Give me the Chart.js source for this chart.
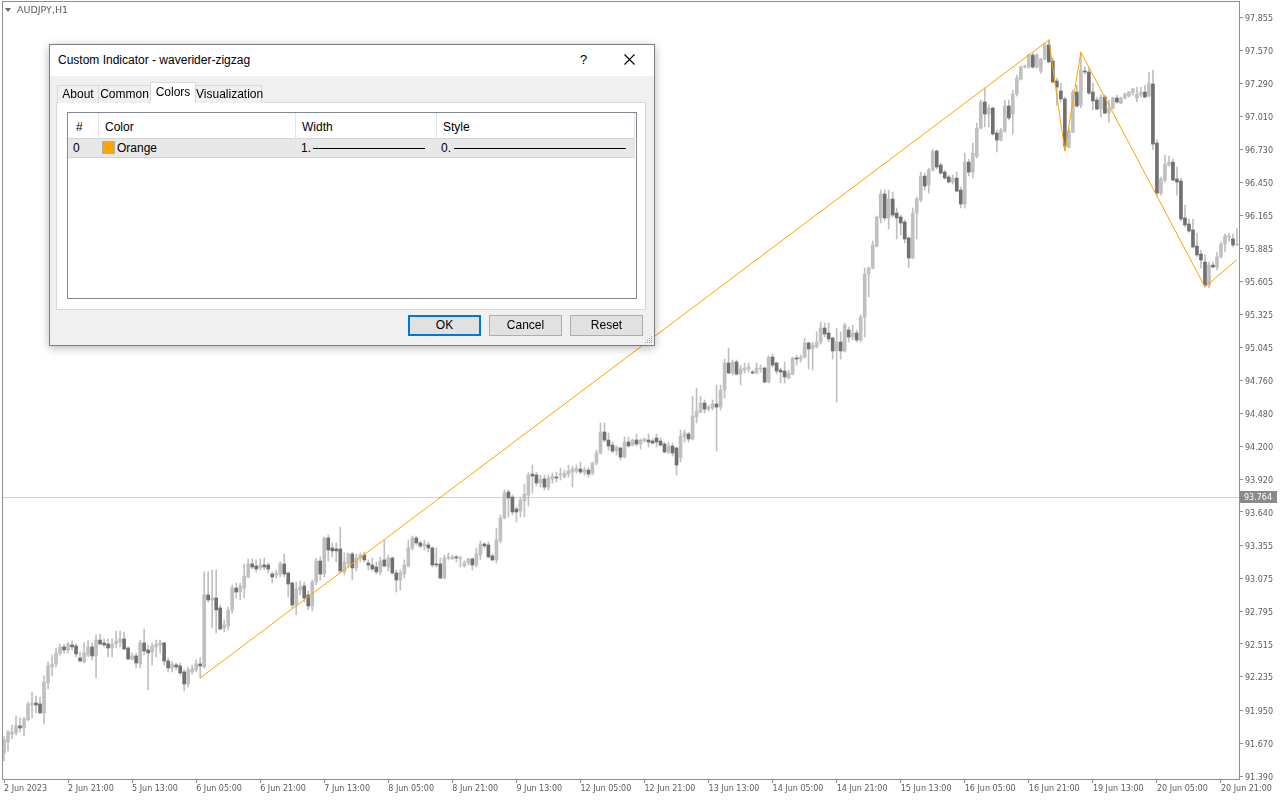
<!DOCTYPE html>
<html><head><meta charset="utf-8">
<script src="https://cdn.jsdelivr.net/npm/chart.js@4.4.0/dist/chart.umd.min.js"></script>
<style>
html,body{margin:0;padding:0;background:#fff;width:1280px;height:800px;overflow:hidden}
#wrap{position:relative;width:1280px;height:800px}
#c{position:absolute;left:0;top:0}
.a{position:absolute;white-space:nowrap}
.dl{font-family:'Liberation Sans',Arial,sans-serif;font-size:12px;color:#000}
.sym{left:17px;top:4px;font:9.5px 'DejaVu Sans',sans-serif;color:#5c5c5c}
.tri{left:5px;top:8px;width:0;height:0;border-left:3px solid transparent;border-right:3px solid transparent;border-top:4px solid #6a6a6a}
.tab{background:#f0f0f0;border:1px solid #d9d9d9;border-bottom:none;box-sizing:border-box;text-align:center;line-height:17px;height:18px;top:85px}
.btn{box-sizing:border-box;height:21px;top:315px;width:73px;background:#e1e1e1;border:1px solid #adadad;text-align:center;line-height:19px}
.vs{width:1px;background:#e5e5e5;top:113px;height:44px}
</style>
</head><body><div id="wrap">
<canvas id="c" width="1280" height="800"></canvas>
<div class="a tri"></div>
<div class="a sym">AUDJPY,H1</div>

<div class="a dl" style="left:49px;top:44px;width:606px;height:302px;box-sizing:border-box;background:#f0f0f0;border:1px solid #7d7d7d;box-shadow:0 2px 9px rgba(0,0,0,0.28)"></div>
<div class="a" style="left:50px;top:45px;width:604px;height:31px;background:#fff"></div>
<div class="a dl" style="left:58px;top:45px;line-height:31px">Custom Indicator - waverider-zigzag</div>
<div class="a dl" style="left:580px;top:45px;line-height:30px;font-size:13px">?</div>
<svg class="a" style="left:624px;top:54px" width="11" height="11"><path d="M0.5 0.5 L10.5 10.5 M10.5 0.5 L0.5 10.5" stroke="#000" stroke-width="1.1" fill="none"/></svg>

<div class="a" style="left:56px;top:102px;width:590px;height:208px;box-sizing:border-box;background:#fff;border:1px solid #d9d9d9"></div>
<div class="a dl tab" style="left:57px;width:42px">About</div>
<div class="a dl tab" style="left:98px;width:53px">Common</div>
<div class="a dl tab" style="left:195px;width:67px">Visualization</div>
<div class="a dl" style="left:150px;top:82px;width:46px;height:21px;box-sizing:border-box;background:#fff;border:1px solid #d9d9d9;border-bottom:none;text-align:center;line-height:18px">Colors</div>

<div class="a" style="left:67px;top:112px;width:570px;height:187px;box-sizing:border-box;background:#fff;border:1px solid #828790"></div>
<div class="a" style="left:68px;top:138px;width:567px;height:20px;box-sizing:border-box;background:#e8e8e8;border-top:1px solid #d5d5d5;border-bottom:1px solid #d5d5d5"></div>
<div class="a vs" style="left:98px"></div>
<div class="a vs" style="left:295px"></div>
<div class="a vs" style="left:436px"></div>
<div class="a vs" style="left:634px"></div>
<div class="a dl" style="left:76px;top:120px">#</div>
<div class="a dl" style="left:105px;top:120px">Color</div>
<div class="a dl" style="left:302px;top:120px">Width</div>
<div class="a dl" style="left:443px;top:120px">Style</div>
<div class="a dl" style="left:73px;top:141px">0</div>
<div class="a" style="left:102px;top:141px;width:13px;height:13px;box-sizing:border-box;background:#ffa500;border:1px solid #b0b0b0"></div>
<div class="a dl" style="left:117px;top:141px">Orange</div>
<div class="a dl" style="left:301px;top:141px">1.</div>
<div class="a" style="left:313px;top:148px;width:112px;height:1px;background:#000"></div>
<div class="a dl" style="left:441px;top:141px">0.</div>
<div class="a" style="left:454px;top:148px;width:172px;height:1px;background:#000"></div>

<div class="a dl btn" style="left:408px;border:2px solid #0078d7;line-height:17px">OK</div>
<div class="a dl btn" style="left:489px">Cancel</div>
<div class="a dl btn" style="left:570px">Reset</div>
<svg class="a" style="left:644px;top:335px" width="9" height="9"><g fill="#a0a0a0"><rect x="7" y="1" width="1" height="1"/><rect x="5" y="3" width="1" height="1"/><rect x="7" y="3" width="1" height="1"/><rect x="3" y="5" width="1" height="1"/><rect x="5" y="5" width="1" height="1"/><rect x="7" y="5" width="1" height="1"/><rect x="1" y="7" width="1" height="1"/><rect x="3" y="7" width="1" height="1"/><rect x="5" y="7" width="1" height="1"/><rect x="7" y="7" width="1" height="1"/></g></svg>
</div>
<script>
// ---------- DATA ----------
const sessions = [['2 Jun',5,23],['5 Jun',0,23],['6 Jun',0,23],['7 Jun',0,23],['8 Jun',0,23],['9 Jun',0,23],
  ['12 Jun',0,23],['13 Jun',0,23],['14 Jun',0,23],['15 Jun',0,23],['16 Jun',0,23],['19 Jun',0,23],['20 Jun',0,23],['21 Jun',0,1]];
const categories = [];
sessions.forEach(([d,h0,h1]) => { for (let h=h0; h<=h1; h++) categories.push(d+' '+String(h).padStart(2,'0')+':00'); });
const firstLabel = '2 Jun 2023';

const open = [
91.586,91.680,91.748,91.757,91.817,91.799,91.868,91.995,92.012,92.004,
91.927,92.183,92.319,92.345,92.438,92.490,92.464,92.507,92.498,92.396,
92.362,92.421,92.490,92.413,92.549,92.524,92.515,92.481,92.515,92.532,
92.558,92.481,92.387,92.413,92.345,92.524,92.464,92.447,92.490,92.507,
92.524,92.370,92.311,92.336,92.328,92.277,92.174,92.277,92.294,92.345,
92.319,92.933,92.890,92.907,92.822,92.651,92.668,92.805,92.992,92.958,
92.992,93.086,93.197,93.180,93.163,93.188,93.188,93.111,93.103,93.111,
93.197,93.120,93.035,92.847,92.975,93.009,92.933,92.839,93.043,93.222,
93.111,93.418,93.333,93.325,93.325,93.129,93.197,93.282,93.163,93.248,
93.273,93.205,93.188,93.171,93.129,93.231,93.171,93.248,93.120,93.060,
93.111,93.180,93.333,93.418,93.376,93.350,93.359,93.333,93.197,93.197,
93.077,93.248,93.240,93.257,93.240,93.180,93.205,93.240,93.188,93.273,
93.367,93.359,93.265,93.231,93.393,93.589,93.810,93.767,93.665,93.648,
93.733,93.784,93.963,93.955,93.887,93.921,93.852,93.921,93.938,93.955,
93.938,93.963,93.980,93.989,94.006,93.980,93.997,93.972,94.057,94.142,
94.321,94.253,94.210,94.159,94.185,94.108,94.236,94.210,94.253,94.219,
94.245,94.253,94.245,94.270,94.245,94.219,94.151,94.202,94.185,94.100,
94.279,94.304,94.262,94.449,94.492,94.568,94.517,94.526,94.560,94.534,
94.679,94.909,94.824,94.918,94.815,94.849,94.858,94.832,94.824,94.858,
94.866,94.747,94.960,94.909,94.849,94.841,94.781,94.815,94.952,94.943,
94.960,95.080,95.029,95.046,95.088,95.207,95.165,95.122,95.012,95.088,
95.012,95.190,95.131,95.165,95.105,95.301,95.668,95.719,95.906,96.145,
96.349,96.145,96.306,96.187,96.153,96.111,95.975,95.804,96.187,96.298,
96.502,96.426,96.553,96.715,96.596,96.536,96.494,96.451,96.485,96.383,
96.264,96.621,96.536,96.672,96.911,97.133,97.031,97.082,96.869,96.809,
96.886,97.099,97.031,97.201,97.329,97.431,97.431,97.533,97.431,97.397,
97.499,97.619,97.482,97.312,97.227,97.159,96.749,96.877,97.218,97.107,
97.397,97.389,97.218,97.150,97.073,97.176,97.039,97.082,97.167,97.124,
97.167,97.184,97.210,97.167,97.193,97.218,97.184,97.287,96.783,96.357,
96.468,96.596,96.621,96.477,96.460,96.145,96.094,96.043,95.906,95.838,
95.770,95.574,95.744,95.727,95.813,95.923,95.983,95.966,95.915];

const high = [
91.723,91.774,91.825,91.902,91.885,91.893,92.021,92.106,92.072,92.063,
92.243,92.362,92.421,92.481,92.515,92.515,92.532,92.541,92.515,92.447,
92.524,92.541,92.524,92.592,92.600,92.558,92.558,92.558,92.626,92.626,
92.617,92.490,92.438,92.438,92.549,92.643,92.507,92.524,92.549,92.549,
92.530,92.396,92.362,92.353,92.353,92.294,92.319,92.336,92.379,92.396,
93.129,93.129,93.146,93.146,92.847,92.720,92.830,93.018,93.035,93.035,
93.197,93.240,93.240,93.231,93.240,93.248,93.205,93.129,93.146,93.214,
93.282,93.129,93.043,93.043,93.052,93.043,92.967,93.060,93.248,93.257,
93.427,93.444,93.376,93.376,93.512,93.290,93.290,93.299,93.282,93.290,
93.299,93.231,93.248,93.214,93.257,93.401,93.273,93.257,93.146,93.146,
93.231,93.401,93.435,93.435,93.393,93.401,93.384,93.342,93.333,93.248,
93.273,93.290,93.273,93.273,93.265,93.222,93.248,93.248,93.333,93.393,
93.376,93.384,93.282,93.503,93.614,93.827,93.827,93.784,93.682,93.759,
93.878,93.972,94.040,93.980,93.955,93.955,93.955,93.972,93.980,94.014,
93.997,94.040,94.031,94.040,94.065,94.023,94.014,94.065,94.168,94.398,
94.398,94.313,94.236,94.202,94.193,94.279,94.279,94.262,94.304,94.262,
94.270,94.304,94.262,94.304,94.270,94.236,94.236,94.227,94.193,94.338,
94.338,94.321,94.628,94.696,94.628,94.594,94.551,94.594,94.722,94.722,
94.943,95.037,94.935,94.935,94.892,94.909,94.909,94.849,94.909,94.892,
94.875,94.969,94.986,94.918,94.866,94.918,94.849,94.960,94.977,94.977,
95.122,95.088,95.088,95.173,95.258,95.250,95.250,95.131,95.207,95.173,
95.250,95.216,95.233,95.190,95.318,95.719,95.727,95.949,96.162,96.383,
96.383,96.383,96.366,96.230,96.170,96.128,95.983,96.230,96.323,96.536,
96.528,96.570,96.727,96.727,96.613,96.553,96.511,96.511,96.536,96.408,
96.698,96.647,96.783,96.954,97.150,97.252,97.107,97.090,96.894,96.911,
97.150,97.150,97.235,97.363,97.440,97.448,97.540,97.550,97.545,97.505,
97.636,97.662,97.508,97.337,97.295,97.176,96.911,97.235,97.278,97.559,
97.430,97.423,97.295,97.176,97.193,97.193,97.150,97.176,97.193,97.176,
97.210,97.225,97.252,97.261,97.261,97.278,97.389,97.406,96.809,96.494,
96.681,96.672,96.647,96.579,96.485,96.255,96.136,96.136,96.017,95.872,
95.830,95.770,95.770,95.855,95.940,96.008,96.017,96.008,96.060];

const low = [
91.518,91.604,91.706,91.740,91.765,91.731,91.859,91.885,91.927,91.927,
91.834,92.132,92.243,92.319,92.421,92.438,92.438,92.464,92.404,92.362,
92.353,92.404,92.379,92.225,92.507,92.490,92.404,92.404,92.481,92.490,
92.464,92.379,92.379,92.311,92.311,92.421,92.123,92.336,92.404,92.438,
92.336,92.277,92.277,92.294,92.251,92.115,92.149,92.260,92.277,92.225,
92.311,92.873,92.651,92.609,92.634,92.617,92.634,92.779,92.907,92.890,
92.907,93.077,93.154,93.129,93.146,93.146,93.120,93.035,93.077,93.086,
93.086,92.916,92.822,92.762,92.933,92.873,92.805,92.796,93.018,93.060,
93.086,93.222,93.257,93.214,93.120,93.103,93.163,93.060,93.137,93.214,
93.214,93.146,93.137,93.111,93.103,93.171,93.137,93.111,92.958,92.975,
93.077,93.171,93.316,93.359,93.333,93.316,93.299,93.171,93.171,93.070,
93.069,93.231,93.235,93.214,93.171,93.171,93.188,93.146,93.171,93.231,
93.333,93.248,93.222,93.205,93.376,93.580,93.597,93.614,93.554,93.597,
93.597,93.691,93.801,93.861,93.852,93.827,93.827,93.887,93.895,93.912,
93.929,93.938,93.852,93.972,93.963,93.955,93.938,93.955,94.040,94.134,
94.236,94.168,94.142,94.125,94.083,94.100,94.193,94.202,94.202,94.176,
94.236,94.193,94.219,94.193,94.202,94.142,94.134,94.117,93.955,94.066,
94.236,94.236,94.253,94.398,94.483,94.483,94.500,94.509,94.159,94.509,
94.611,94.815,94.807,94.807,94.722,94.824,94.832,94.815,94.815,94.832,
94.739,94.739,94.875,94.815,94.739,94.739,94.773,94.807,94.892,94.918,
94.952,94.858,94.849,95.037,95.071,95.131,95.088,94.943,94.577,94.943,
95.003,95.088,95.105,95.088,95.088,95.131,95.472,95.710,95.898,96.102,
96.128,96.051,96.153,95.966,96.000,95.932,95.719,95.796,95.966,96.281,
96.383,96.357,96.545,96.562,96.519,96.476,96.443,96.434,96.366,96.230,
96.230,96.502,96.485,96.655,96.903,96.920,96.920,96.852,96.707,96.800,
96.877,96.980,96.860,97.184,97.320,97.422,97.422,97.422,97.422,97.380,
97.491,97.466,97.295,97.107,97.133,96.716,96.741,96.869,97.090,97.082,
97.370,97.195,97.065,97.065,97.005,97.031,96.962,97.073,97.124,97.116,
97.159,97.176,97.193,97.133,97.176,97.167,97.176,96.727,96.340,96.340,
96.451,96.587,96.460,96.340,96.119,96.068,96.025,95.889,95.813,95.719,
95.557,95.549,95.719,95.702,95.804,95.855,95.940,95.898,95.906];

const close = [
91.697,91.765,91.765,91.817,91.799,91.876,92.004,92.012,91.995,91.927,
92.191,92.328,92.345,92.438,92.490,92.464,92.515,92.490,92.430,92.370,
92.438,92.490,92.413,92.549,92.515,92.507,92.481,92.515,92.541,92.558,
92.473,92.387,92.413,92.353,92.524,92.455,92.438,92.498,92.515,92.524,
92.370,92.311,92.345,92.319,92.268,92.174,92.294,92.302,92.345,92.328,
92.933,92.890,92.907,92.805,92.643,92.677,92.805,92.992,92.958,93.009,
93.094,93.197,93.171,93.154,93.188,93.171,93.154,93.086,93.120,93.197,
93.111,93.026,92.847,92.984,93.001,92.907,92.839,93.043,93.222,93.111,
93.418,93.316,93.308,93.308,93.137,93.214,93.282,93.163,93.248,93.273,
93.231,93.188,93.154,93.129,93.222,93.180,93.248,93.120,93.060,93.120,
93.188,93.333,93.418,93.376,93.350,93.367,93.333,93.188,93.188,93.077,
93.248,93.257,93.257,93.248,93.248,93.205,93.240,93.188,93.282,93.367,
93.350,93.257,93.231,93.401,93.589,93.801,93.759,93.640,93.640,93.742,
93.793,93.955,93.946,93.887,93.921,93.852,93.929,93.946,93.929,93.963,
93.972,93.989,94.006,94.014,93.980,93.997,93.963,94.057,94.142,94.321,
94.253,94.202,94.159,94.193,94.108,94.236,94.202,94.253,94.219,94.253,
94.262,94.236,94.227,94.236,94.210,94.151,94.202,94.142,94.040,94.287,
94.313,94.262,94.458,94.500,94.568,94.517,94.534,94.560,94.534,94.679,
94.909,94.824,94.918,94.815,94.858,94.866,94.875,94.824,94.866,94.866,
94.747,94.960,94.892,94.841,94.832,94.790,94.824,94.952,94.943,94.960,
95.080,95.029,95.063,95.088,95.207,95.156,95.114,95.012,95.088,95.012,
95.233,95.131,95.165,95.105,95.301,95.668,95.719,95.915,96.153,96.349,
96.145,96.306,96.170,96.145,96.102,95.966,95.804,96.187,96.306,96.502,
96.417,96.553,96.715,96.579,96.528,96.485,96.451,96.485,96.374,96.264,
96.621,96.536,96.698,96.911,97.133,97.031,97.082,96.860,96.809,96.894,
97.099,96.997,97.201,97.337,97.431,97.440,97.533,97.431,97.533,97.499,
97.619,97.474,97.304,97.261,97.159,96.758,96.886,97.218,97.099,97.406,
97.389,97.210,97.142,97.073,97.176,97.039,97.082,97.167,97.133,97.167,
97.201,97.218,97.244,97.201,97.218,97.176,97.295,96.775,96.357,96.477,
96.604,96.621,96.468,96.451,96.136,96.085,96.034,95.898,95.830,95.787,
95.574,95.744,95.727,95.813,95.923,95.991,95.991,95.915,95.923];

// zigzag turning points (bar index, price)
const zigzagIndex = [49, 261, 265, 269, 300, 308];
const zigzagPrice = [92.225, 97.662, 96.716, 97.559, 95.557, 95.790];

const yTickValues = [97.855,97.570,97.290,97.010,96.730,96.450,96.165,95.885,95.605,95.325,95.045,94.760,
  94.480,94.200,93.920,93.640,93.355,93.075,92.795,92.515,92.235,91.950,91.670,91.390];
const priceLine = 93.764;
const yMin = 91.3645, yMax = 97.9854;

// ---------- BUILD ----------
const bodies = open.map((o,i) => [o, close[i]]);
const wicks = low.map((l,i) => [l, high[i]]);
const bodyColors = open.map((o,i) => close[i] >= o ? '#c0c0c0' : '#707070');
const zigzag = categories.map(() => null);
zigzagIndex.forEach((ix,k) => { zigzag[ix] = zigzagPrice[k]; });

const axisFont = {family:'DejaVu Sans', size:8};
const axisColor = '#5c5c5c';

const overlay = {
  id:'overlay',
  beforeDraw(chart){
    const c = chart.ctx; c.save(); c.fillStyle='#fff'; c.fillRect(0,0,chart.width,chart.height); c.restore();
  },
  beforeDatasetsDraw(chart){
    const {ctx, chartArea:a, scales:{y}} = chart;
    const py = Math.round(y.getPixelForValue(priceLine)) + 0.5;
    ctx.save(); ctx.strokeStyle='#cfcfcf'; ctx.lineWidth=1;
    ctx.beginPath(); ctx.moveTo(a.left,py); ctx.lineTo(a.right,py); ctx.stroke(); ctx.restore();
  },
  afterDraw(chart){
    const {ctx, chartArea:a, scales:{y}} = chart;
    ctx.save();
    ctx.strokeStyle='#8f8f8f'; ctx.lineWidth=1;
    ctx.strokeRect(a.left+0.5, a.top-0.5, a.right-a.left, a.bottom-a.top+1);
    const py = Math.round(y.getPixelForValue(priceLine));
    ctx.fillStyle='#8a8a8a'; ctx.fillRect(a.right+1, py-6, 37, 12);
    ctx.fillStyle='#ffffff'; ctx.font='8px "DejaVu Sans"'; ctx.textBaseline='middle'; ctx.textAlign='left';
    ctx.fillText(priceLine.toFixed(3), a.right+5, py+0.5);
    ctx.restore();
  }
};

new Chart(document.getElementById('c'), {
  type:'bar',
  data:{
    labels: categories,
    datasets:[
      {type:'line', label:'ZigZag', data: zigzag, borderColor:'#ffa500', borderWidth:1, pointRadius:0, spanGaps:true, tension:0, order:0},
      {label:'Body', data: bodies, backgroundColor: bodyColors, borderWidth:0, barThickness:3, grouped:false, minBarLength:1, order:1},
      {label:'Wick', data: wicks, backgroundColor:'#c0c0c0', borderWidth:0, barThickness:1, grouped:false, order:2}
    ]
  },
  options:{
    responsive:false, animation:false, devicePixelRatio:1,
    layout:{padding:{left:2, top:2, right:0, bottom:0}},
    plugins:{legend:{display:false}, tooltip:{enabled:false}},
    scales:{
      x:{
        offset:true,
        grid:{drawOnChartArea:false, drawTicks:true, tickLength:4, color:'#8f8f8f', offset:false},
        border:{display:false},
        ticks:{autoSkip:false, maxRotation:0, minRotation:0, align:'start', padding:1, font:axisFont, color:axisColor,
          callback:(v) => v === 0 ? firstLabel : categories[v]},
        afterBuildTicks:(s) => { s.ticks = s.ticks.filter(t => t.value % 16 === 0); },
        afterFit:(s) => { s.height = 21; s.paddingLeft = 0; s.paddingRight = 0; }
      },
      y:{
        position:'right', min:yMin, max:yMax,
        grid:{drawOnChartArea:false, drawTicks:true, tickLength:4, color:'#8f8f8f'},
        border:{display:false},
        ticks:{autoSkip:false, padding:2, labelOffset:1.5, font:axisFont, color:axisColor, callback:(v) => Number(v).toFixed(3)},
        afterBuildTicks:(s) => { s.ticks = yTickValues.map(v => ({value:v})); },
        afterFit:(s) => { s.width = 41; s.paddingTop = 0; s.paddingBottom = 0; }
      }
    }
  },
  plugins:[overlay]
});
</script>
</body></html>
